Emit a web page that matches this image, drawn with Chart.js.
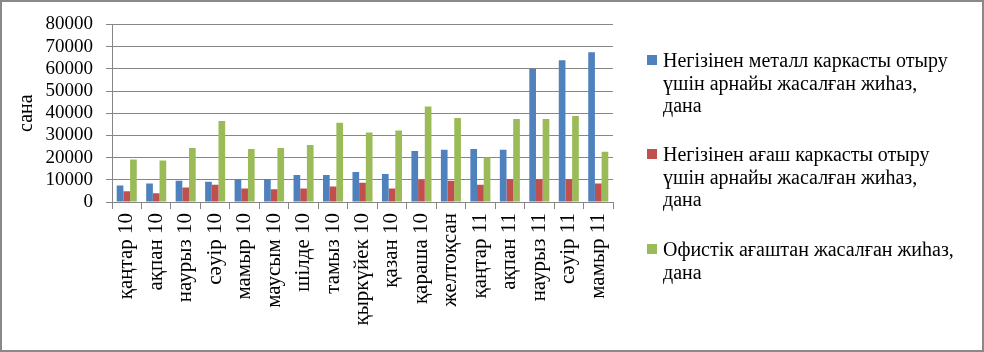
<!DOCTYPE html>
<html>
<head>
<meta charset="utf-8">
<script src="https://cdn.jsdelivr.net/npm/chart.js@4"></script>
<style>
  html, body { margin: 0; padding: 0; background: #fff; }
  #wrap { position: relative; width: 984px; height: 352px; overflow: hidden; }
  #frame { position: absolute; left: 0; top: 0; width: 984px; height: 352px; box-sizing: border-box; border: 2px solid #898989; pointer-events: none; }
  #chart { position: absolute; left: 0; top: 0; }
  .leg { position: absolute; left: 647px; font-family: "Liberation Serif", "Times New Roman", serif; font-size: 20px; line-height: 22.5px; color: #000; }
  .leg .box { position: absolute; left: 0; top: 6px; width: 10px; height: 10px; }
  .leg .txt { position: absolute; left: 16px; top: 0; white-space: pre; }
</style>
</head>
<body>
<div id="wrap">
  <canvas id="chart" width="984" height="352"></canvas>
  <div id="legend"></div>
  <div id="frame"></div>
</div>
<script>
var months = ['қаңтар 10', 'ақпан 10', 'наурыз 10', 'сәуір 10', 'мамыр 10', 'маусым 10', 'шілде 10',
  'тамыз 10', 'қыркүйек 10', 'қазан 10', 'қараша 10', 'желтоқсан', 'қаңтар 11', 'ақпан 11',
  'наурыз 11', 'сәуір 11', 'мамыр 11'];

var metalFrame = [7400, 8300, 9600, 9100, 10400, 10400, 12200, 12200, 13500, 12600, 23000, 23500,
  23900, 23500, 60000, 63900, 67400];
var woodFrame = [4800, 3900, 6500, 7800, 6100, 5700, 6100, 7000, 8700, 6100, 10000, 9600,
  7800, 10400, 10400, 10400, 8300];
var officeWood = [19100, 18700, 24300, 36500, 23900, 24300, 25700, 35700, 31300, 32200, 43000, 37800,
  20000, 37400, 37400, 38700, 22600];

var seriesNames = [
  'Негізінен металл каркасты отыру\nүшін арнайы жасалған жиһаз,\nдана',
  'Негізінен ағаш каркасты отыру\nүшін арнайы жасалған жиһаз,\nдана',
  'Офистік ағаштан жасалған жиһаз,\nдана'
];
var seriesColors = ['#4F81BD', '#C0504D', '#9BBB59'];
var yMin = 0;
var yMax = 80000;
var yStep = 10000;
var yTitle = 'сана';

var serif = '"Liberation Serif", "Times New Roman", serif';
var axisGrey = '#868686';

var seriesData = [metalFrame, woodFrame, officeWood];
var datasets = seriesData.map(function (d, i) {
  return {
    label: seriesNames[i],
    data: d,
    backgroundColor: seriesColors[i],
    borderWidth: 0,
    categoryPercentage: 0.68,
    barPercentage: 1.0
  };
});

new Chart(document.getElementById('chart'), {
  type: 'bar',
  data: { labels: months, datasets: datasets },
  options: {
    responsive: false,
    animation: false,
    layout: { padding: { left: 0, right: 371, top: 18, bottom: 0 } },
    plugins: { legend: { display: false }, tooltip: { enabled: false } },
    scales: {
      x: {
        afterFit: function (s) { s.height = 150; },
        grid: { offset: true, drawOnChartArea: false, drawTicks: true, tickLength: 7, color: axisGrey },
        border: { color: axisGrey, width: 1 },
        ticks: {
          autoSkip: false, maxRotation: 90, minRotation: 90, padding: 4,
          color: '#000', font: { family: serif, size: 21 }
        }
      },
      y: {
        min: yMin,
        max: yMax,
        afterFit: function (s) { s.width = 112; },
        grid: { color: axisGrey, tickLength: 6, lineWidth: 1 },
        border: { color: axisGrey, width: 1 },
        title: { display: true, text: yTitle, color: '#000', font: { family: serif, size: 20 }, padding: { top: 15, bottom: 0 } },
        ticks: {
          stepSize: yStep, autoSkip: false, padding: 13, color: '#000',
          font: { family: serif, size: 19 },
          callback: function (v) { return String(v); }
        }
      }
    }
  }
});

// legend on the right, wrapped like the original
var legendTops = [49, 143, 238];
var legendEl = document.getElementById('legend');
seriesNames.forEach(function (name, i) {
  var item = document.createElement('div');
  item.className = 'leg';
  item.style.top = legendTops[i] + 'px';
  var box = document.createElement('div');
  box.className = 'box';
  box.style.background = seriesColors[i];
  var txt = document.createElement('div');
  txt.className = 'txt';
  txt.textContent = name;
  item.appendChild(box);
  item.appendChild(txt);
  legendEl.appendChild(item);
});
</script>
</body>
</html>
